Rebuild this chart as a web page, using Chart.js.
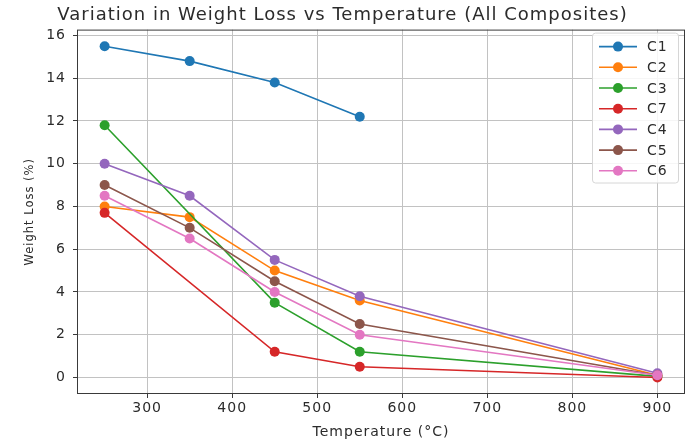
<!DOCTYPE html>
<html>
<head>
<meta charset="utf-8">
<title>Weight Loss vs Temperature</title>
<script src="https://cdn.jsdelivr.net/npm/chart.js@4"></script>
<style>
    html, body { margin: 0; padding: 0; background: #ffffff; }
    #wrap { width: 691px; height: 441px; position: relative; }
</style>
</head>
<body>
<div id="wrap"><canvas id="lossChart" width="691" height="441"></canvas></div>
<script>
// ============================================
// DATA
// ============================================
const seriesNames = ['C1', 'C2', 'C3', 'C7', 'C4', 'C5', 'C6'];
const seriesColors = ['#1f77b4', '#ff7f0e', '#2ca02c', '#d62728', '#9467bd', '#8c564b', '#e377c2'];

const tempC1 = [250, 350, 450, 550];
const lossC1 = [15.5, 14.8, 13.8, 12.2];

const tempC2 = [250, 350, 450, 550, 900];
const lossC2 = [8.0, 7.5, 5.0, 3.6, 0.1];

const tempC3 = [250, 450, 550, 900];
const lossC3 = [11.8, 3.5, 1.2, 0.05];

const tempC7 = [250, 450, 550, 900];
const lossC7 = [7.7, 1.2, 0.5, 0.0];

const tempC4 = [250, 350, 450, 550, 900];
const lossC4 = [10.0, 8.5, 5.5, 3.8, 0.2];

const tempC5 = [250, 350, 450, 550, 900];
const lossC5 = [9.0, 7.0, 4.5, 2.5, 0.1];

const tempC6 = [250, 350, 450, 550, 900];
const lossC6 = [8.5, 6.5, 4.0, 2.0, 0.1];

const xTicks = [300, 400, 500, 600, 700, 800, 900];
const yTicks = [0, 2, 4, 6, 8, 10, 12, 14, 16];

const temps = [tempC1, tempC2, tempC3, tempC7, tempC4, tempC5, tempC6];
const losses = [lossC1, lossC2, lossC3, lossC7, lossC4, lossC5, lossC6];

// ============================================
// HELPERS
// ============================================
const FONT = "'DejaVu Sans', sans-serif";
const TEXT_COLOR = '#2b2b2b';
const GRID_COLOR = '#c2c2c2';

function toPoints(xs, ys) {
    return xs.map((x, i) => ({ x: x, y: ys[i] }));
}

// the source picture has wide lettering
const spacingPlugin = {
    id: 'spacing',
    beforeLayout(chart) { chart.ctx.letterSpacing = '1px'; },
    beforeDraw(chart) { chart.ctx.letterSpacing = '1px'; }
};

// matplotlib-style frame round the axes
const framePlugin = {
    id: 'frame',
    afterDatasetsDraw(chart) {
        const { ctx, chartArea: a } = chart;
        ctx.save();
        ctx.strokeStyle = '#3a3a3a';
        ctx.lineWidth = 1;
        ctx.strokeRect(a.left + 0.5, a.top + 0.5, a.right - a.left - 1, a.bottom - a.top - 1);
        ctx.restore();
    }
};

// Legend box in the upper right corner of the axes
const legendPlugin = {
    id: 'boxLegend',
    afterDraw(chart) {
        const { ctx, chartArea: a } = chart;
        const sets = chart.data.datasets;
        const rowH = 20.7;
        const boxW = 86;
        const boxH = 5 + rowH * sets.length;
        const bx = a.right - boxW - 7;
        const by = a.top + 3;

        ctx.save();
        ctx.fillStyle = 'rgba(255,255,255,0.85)';
        ctx.strokeStyle = '#d6d6d6';
        ctx.lineWidth = 1;
        ctx.beginPath();
        ctx.roundRect(bx + 0.5, by + 0.5, boxW, boxH, 3);
        ctx.fill();
        ctx.stroke();

        sets.forEach((ds, i) => {
            const cy = by + 14 + i * rowH;
            ctx.strokeStyle = ds.borderColor;
            ctx.lineWidth = 1.6;
            ctx.beginPath();
            ctx.moveTo(bx + 7, cy);
            ctx.lineTo(bx + 45, cy);
            ctx.stroke();
            ctx.fillStyle = ds.backgroundColor;
            ctx.beginPath();
            ctx.arc(bx + 26, cy, 5, 0, Math.PI * 2);
            ctx.fill();
            ctx.fillStyle = TEXT_COLOR;
            ctx.font = '14px ' + FONT;
            ctx.textBaseline = 'middle';
            ctx.textAlign = 'left';
            ctx.fillText(ds.label, bx + 55, cy + 1);
        });
        ctx.restore();
    }
};

// ============================================
// CHART
// ============================================
document.addEventListener('DOMContentLoaded', function() {
    const ctx = document.getElementById('lossChart');
    if (!ctx) return;

    const datasets = seriesNames.map((name, i) => ({
        label: name,
        data: toPoints(temps[i], losses[i]),
        borderColor: seriesColors[i],
        backgroundColor: seriesColors[i],
        borderWidth: 1.6,
        pointRadius: 5,
        pointHoverRadius: 5,
        pointBorderWidth: 0,
        tension: 0,
        order: seriesNames.length - i
    }));

    new Chart(ctx, {
        type: 'line',
        data: { datasets: datasets },
        options: {
            responsive: false,
            animation: false,
            events: [],
            layout: { padding: { left: 0, right: 6, top: 0, bottom: 0 } },
            plugins: {
                legend: { display: false },
                tooltip: { enabled: false },
                title: {
                    display: true,
                    text: 'Variation in Weight Loss vs Temperature (All Composites)',
                    color: TEXT_COLOR,
                    font: { family: FONT, size: 18, weight: 'normal' },
                    padding: { top: 5, bottom: 3 }
                }
            },
            scales: {
                x: {
                    type: 'linear',
                    min: 217.5,
                    max: 932.5,
                    afterBuildTicks(scale) {
                        scale.ticks = xTicks.map(v => ({ value: v }));
                    },
                    afterFit(scale) { scale.height = 47; },
                    grid: { color: GRID_COLOR, lineWidth: 1, tickLength: 4, tickColor: '#3a3a3a' },
                    border: { display: false },
                    ticks: {
                        color: TEXT_COLOR,
                        font: { family: FONT, size: 14 },
                        padding: 2,
                        maxRotation: 0
                    },
                    title: {
                        display: true,
                        text: 'Temperature (°C)',
                        color: TEXT_COLOR,
                        font: { family: FONT, size: 14 },
                        padding: { top: 0, bottom: 0 }
                    }
                },
                y: {
                    type: 'linear',
                    min: -0.775,
                    max: 16.275,
                    afterBuildTicks(scale) {
                        scale.ticks = yTicks.map(v => ({ value: v }));
                    },
                    afterFit(scale) { scale.width = 77; },
                    grid: { color: GRID_COLOR, lineWidth: 1, tickLength: 4, tickColor: '#3a3a3a' },
                    border: { display: false },
                    ticks: {
                        color: TEXT_COLOR,
                        font: { family: FONT, size: 14 },
                        padding: 7
                    },
                    title: {
                        display: true,
                        text: 'Weight Loss (%)',
                        color: TEXT_COLOR,
                        font: { family: FONT, size: 11.5 },
                        padding: { top: 23, bottom: 0 }
                    }
                }
            }
        },
        plugins: [spacingPlugin, framePlugin, legendPlugin]
    });
});
</script>
</body>
</html>
